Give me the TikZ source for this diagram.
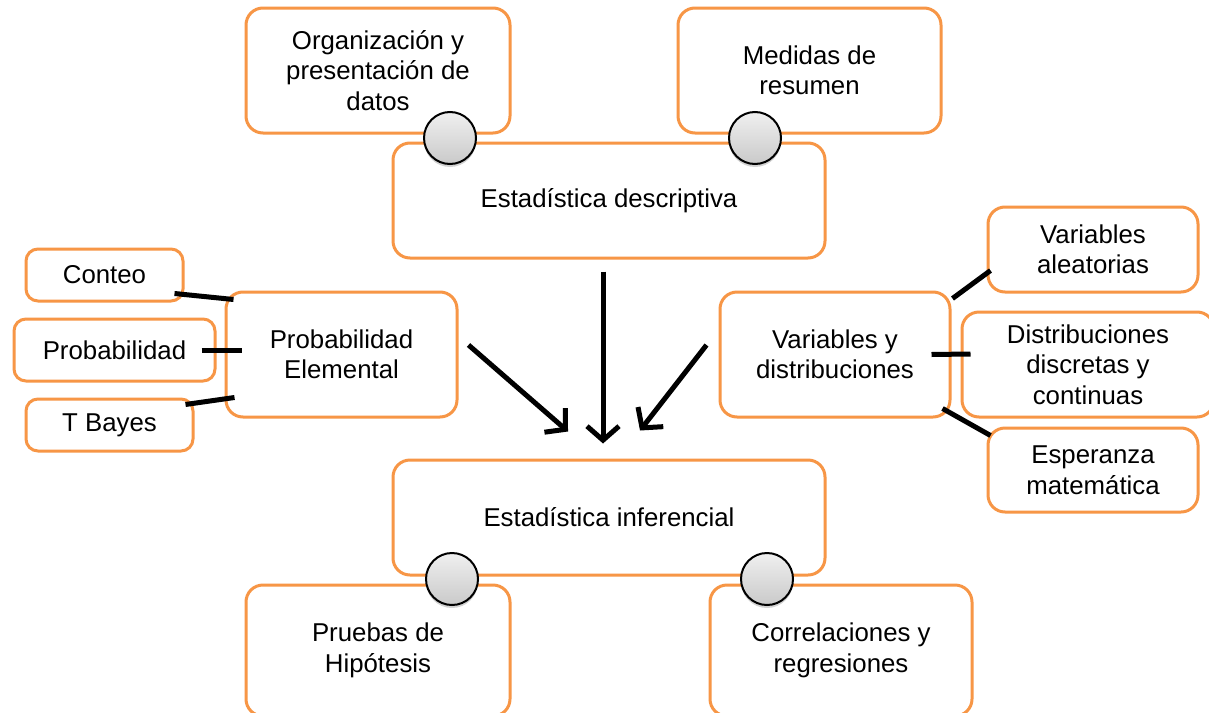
\documentclass[tikz,border=0pt]{standalone}
\usepackage{fontspec}
\setmainfont{Liberation Sans}
\usepackage{tikz}
\usetikzlibrary{arrows.meta,shadows,calc}
\definecolor{boxorange}{HTML}{F79646}

\begin{document}
\begin{tikzpicture}[x=1pt,y=-1pt,
    box/.style={draw=boxorange,line width=3pt,rounded corners=17pt,fill=white,
        align=center,inner sep=0pt,font=\fontsize{25.8}{30.5}\selectfont},
    knob/.style={circle,draw=black,line width=2pt,minimum size=52pt,inner sep=0pt,
        top color=gray!12,bottom color=gray!42,
        drop shadow={shadow xshift=0pt,shadow yshift=-3pt,opacity=0.35}},
    link/.style={line width=5pt},
    flow/.style={line width=5pt,-{Straight Barb[length=14pt,width=32pt,line width=5pt]}}]
    \useasboundingbox (0,0) rectangle (1209,712);
    \fill[white] (0,0) rectangle (1209,712);
    % Top boxes
    \node[box,minimum width=264pt,minimum height=125pt] (org) at (378,70.5)
        {Organización y\\presentación de\\datos};
    \node[box,minimum width=263pt,minimum height=125pt] (med) at (809.5,70.5)
        {Medidas de\\resumen};
    \node[box,minimum width=432pt,minimum height=115pt] (desc) at (609,200.5)
        {Estadística descriptiva};
    \node[knob] (k1) at (450,138) {};
    \node[knob] (k2) at (755,138) {};
    % Left group
    \node[box,minimum width=157pt,minimum height=52pt,rounded corners=12pt] (conteo) at (104.5,275) {Conteo};
    \node[box,minimum width=201pt,minimum height=62pt,rounded corners=12pt] (prob) at (114.5,350) {Probabilidad};
    \node[box,minimum width=167pt,minimum height=52pt,rounded corners=12pt] (bayes) at (109.5,425) {T Bayes};
    \node[box,minimum width=231pt,minimum height=125pt] (probel) at (341.5,354.5)
        {Probabilidad\\Elemental};
    \draw[link] ([shift={(-10,-9)}]conteo.south east) -- ([shift={(9,9)}]probel.north west);
    \draw[link] ([shift={(-15,0)}]prob.east) -- ([shift={(17,-4.5)}]probel.west);
    \draw[link] ([shift={(-9,7)}]bayes.north east) -- ([shift={(10,-21)}]probel.south west);
    % Right group
    \node[box,minimum width=230pt,minimum height=125pt] (vardist) at (835,354.5)
        {Variables y\\distribuciones};
    \node[box,minimum width=210pt,minimum height=85pt] (varal) at (1093,249.5)
        {Variables\\aleatorias};
    \node[box,minimum width=252pt,minimum height=105pt] (distrib) at (1088,364.5)
        {Distribuciones\\discretas y\\continuas};
    \node[box,minimum width=210pt,minimum height=84pt] (esper) at (1093,470)
        {Esperanza\\matemática};
    \draw[link] ([shift={(1,8)}]vardist.north east) -- ([shift={(4,-23)}]varal.south west);
    \draw[link] ([shift={(-20,0)}]vardist.east) -- ([shift={(10,-10.5)}]distrib.west);
    \draw[link] ([shift={(-9,-10)}]vardist.south east) -- ([shift={(4,9)}]esper.north west);
    % Bottom boxes
    \node[box,minimum width=264pt,minimum height=131pt] (prueba) at (378,650.5)
        {Pruebas de\\Hipótesis};
    \node[box,minimum width=262pt,minimum height=131pt] (correl) at (841,650.5)
        {Correlaciones y\\regresiones};
    \node[box,minimum width=432pt,minimum height=115pt] (inf) at (609,517.5)
        {Estadística inferencial};
    \node[knob] (k3) at (452,579) {};
    \node[knob] (k4) at (767,579) {};
    % Arrows into the inferential box
    \draw[flow] ([shift={(10,-9.5)}]probel.east) -- ([shift={(-41,-27)}]inf.north);
    \draw[flow] ([shift={(-6,12)}]desc.south) -- ([shift={(-6,-15)}]inf.north);
    \draw[flow] ([shift={(-12,-9.5)}]vardist.west) -- ([shift={(31,-28)}]inf.north);
\end{tikzpicture}
\end{document}
